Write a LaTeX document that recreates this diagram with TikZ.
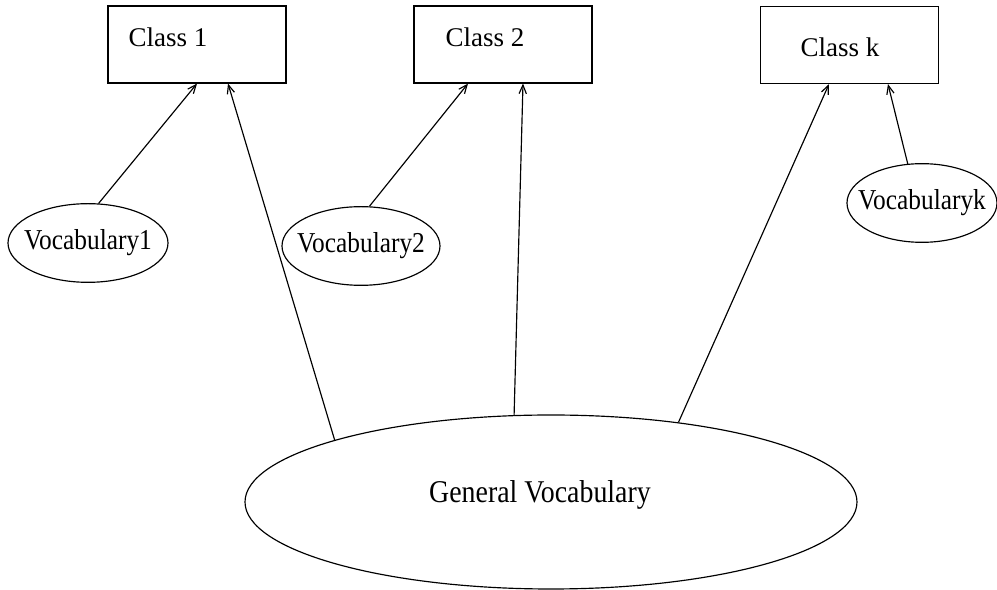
\documentclass[tikz,border=0pt]{standalone}
\usepackage{fontspec}
\setmainfont{Liberation Serif}
\newfontfamily\narrowserif{Liberation Serif}[FakeStretch=0.88]
\usepackage{tikz}
\usetikzlibrary{shapes.geometric,arrows.meta}

\begin{document}
\begin{tikzpicture}[x=0.3pt,y=-0.3pt,line width=0.35pt,
    classbox/.style = {rectangle, draw, minimum width=53.4pt, minimum height=23.1pt},
    classname/.style = {anchor=west, inner sep=0pt, font=\fontsize{8.1pt}{10pt}\selectfont},
    vocab/.style = {ellipse, draw, inner xsep=-6pt, inner ysep=0pt,
      minimum width=#1, minimum height=23.6pt, font=\narrowserif\fontsize{8.65pt}{10pt}\selectfont},
    link/.style = {-{Straight Barb[length=2.6pt,width=2.2pt]}}]
\useasboundingbox (0,0) rectangle (997,590);
% classes
\node[classbox] (c1) at (197,44.5) {};
\node[classbox] (c2) at (503,44.5) {};
\node[classbox] (ck) at (849.5,45) {};
\node[classname] (c1name) at (128,37) {Class 1};
\node[classname] (c2name) at (445,37) {Class 2};
\node[classname] (ckname) at (800,47) {Class k};
% vocabularies
\node[vocab=48pt] (v1) at (88,243) {Vocabulary1};
\node[vocab=47.4pt] (v2) at (361,246) {Vocabulary2};
\node[vocab=45pt] (vk) at (922,203) {Vocabularyk};
\node[ellipse, draw, minimum width=183.6pt, minimum height=52.2pt,
  label={[xshift=-3.3pt, yshift=2.2pt, font=\narrowserif\fontsize{9.5pt}{11pt}\selectfont]center:General Vocabulary}] (gen) at (551,502) {};
% links
\draw[link] (v1.75) -- (c1.south);
\draw[link] (gen.164) -- ([xshift=9.3pt]c1.south);
\draw[link] (v2.78) -- ([xshift=-10.5pt]c2.south);
\draw[link] (gen.113) -- ([xshift=6pt]c2.south);
\draw[link] (gen.32) -- ([xshift=-6.15pt]ck.south);
\draw[link] (vk.110) -- ([xshift=11.55pt]ck.south);
\end{tikzpicture}
\end{document}
